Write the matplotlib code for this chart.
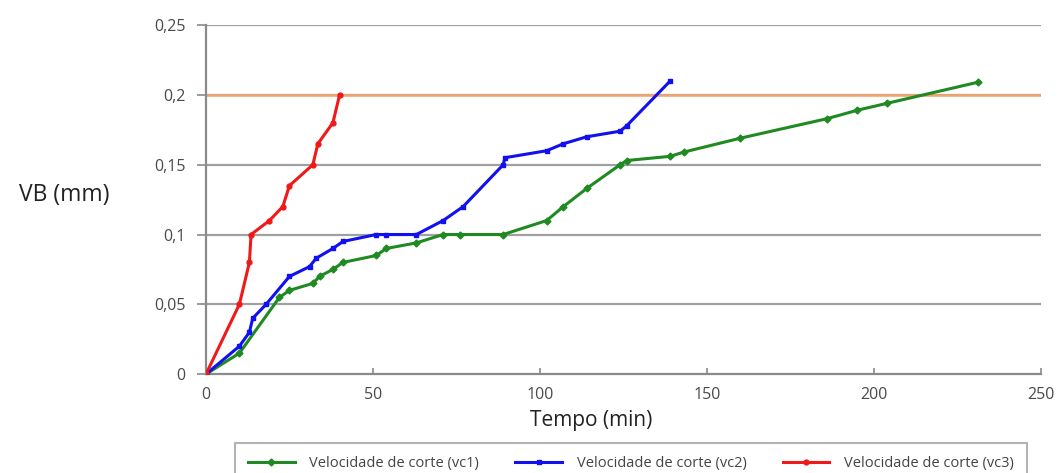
import numpy as np
import matplotlib.pyplot as plt
from matplotlib.ticker import FixedLocator, FixedFormatter

# tool wear VB vs time for three cutting speeds
t_vc1 = [0, 10, 22, 25, 32, 34, 38, 41, 51, 54, 63, 71, 76, 89, 102, 107, 114, 124, 126,
         139, 143, 160, 186, 195, 204, 231]
vb_vc1 = [0, 0.015, 0.055, 0.06, 0.065, 0.07, 0.075, 0.08, 0.085, 0.09, 0.094, 0.1, 0.1,
          0.1, 0.11, 0.12, 0.133, 0.15, 0.153, 0.156, 0.159, 0.169, 0.183, 0.189, 0.194, 0.209]

t_vc2 = [0, 10, 13, 14, 18, 25, 31, 33, 38, 41, 51, 54, 63, 71, 77, 89, 89.5, 102, 107,
         114, 124, 126, 139]
vb_vc2 = [0, 0.02, 0.03, 0.04, 0.05, 0.07, 0.077, 0.083, 0.09, 0.095, 0.1, 0.1, 0.1,
          0.11, 0.12, 0.15, 0.155, 0.16, 0.165, 0.17, 0.174, 0.178, 0.21]

t_vc3 = [0, 10, 13, 13.5, 19, 23, 25, 32, 33.5, 38, 40]
vb_vc3 = [0, 0.05, 0.08, 0.1, 0.11, 0.12, 0.135, 0.15, 0.165, 0.18, 0.2]

vb_limit = 0.2
y_ticks = [0, 0.05, 0.1, 0.15, 0.2, 0.25]
y_tick_labels = ['0', '0,05', '0,1', '0,15', '0,2', '0,25']
x_ticks = [0, 50, 100, 150, 200, 250]
labels = ['Velocidade de corte (vc1)', 'Velocidade de corte (vc2)', 'Velocidade de corte (vc3)']

plt.rcParams['font.family'] = ['Open Sans', 'DejaVu Sans']

fig = plt.figure(figsize=(10.59, 4.73), dpi=100)
ax = fig.add_axes([0.1945, 0.209, 0.7885, 0.738])

for y in y_ticks[1:]:
    ax.axhline(y, color='#a0a0a0', lw=1.6, zorder=1)
ax.axhline(vb_limit, color='#f5a46a', lw=1.8, zorder=2)

ax.plot(t_vc1, vb_vc1, color='#1f8a22', lw=2.2, marker='D', ms=3.5, label=labels[0], zorder=3)
ax.plot(t_vc2, vb_vc2, color='#1010f0', lw=2.2, marker='s', ms=3.5, label=labels[1], zorder=4)
ax.plot(t_vc3, vb_vc3, color='#f01818', lw=2.2, marker='o', ms=3.5, label=labels[2], zorder=5)

ax.set_xlim(0, 250)
ax.set_ylim(0, 0.25)
ax.xaxis.set_major_locator(FixedLocator(x_ticks))
ax.yaxis.set_major_locator(FixedLocator(y_ticks))
ax.yaxis.set_major_formatter(FixedFormatter(y_tick_labels))

for s in ['top', 'right']:
    ax.spines[s].set_visible(False)
for s in ['left', 'bottom']:
    ax.spines[s].set_color('#8a8a8a')
    ax.spines[s].set_linewidth(1.6)

ax.tick_params(width=1.2, color='#8a8a8a', labelsize=11.5, labelcolor='#4a4a4a')
ax.tick_params(axis='y', direction='out', length=6.5, pad=8)
ax.tick_params(axis='x', direction='in', length=4.5, pad=9)

ax.set_xlabel('Tempo (min)', fontsize=15, color='#222222', va='center')
ax.xaxis.set_label_coords(0.461, -0.132)
ax.set_ylabel('VB (mm)', fontsize=16.5, rotation=0, color='#222222', ha='center', va='center')
ax.yaxis.set_label_coords(-0.170, 0.513)

leg = fig.legend(loc='upper left', bbox_to_anchor=(0.2219, 0.0634, 0.7479, 0.0),
                 ncol=3, mode='expand', fontsize=10.5, frameon=True, fancybox=False,
                 edgecolor='#a0a0a0', handlelength=3.2, handletextpad=1.0,
                 borderpad=0.9, borderaxespad=0)
leg.get_frame().set_linewidth(1.5)
for txt in leg.get_texts():
    txt.set_color('#444444')

fig.savefig('out.png', dpi=100)
